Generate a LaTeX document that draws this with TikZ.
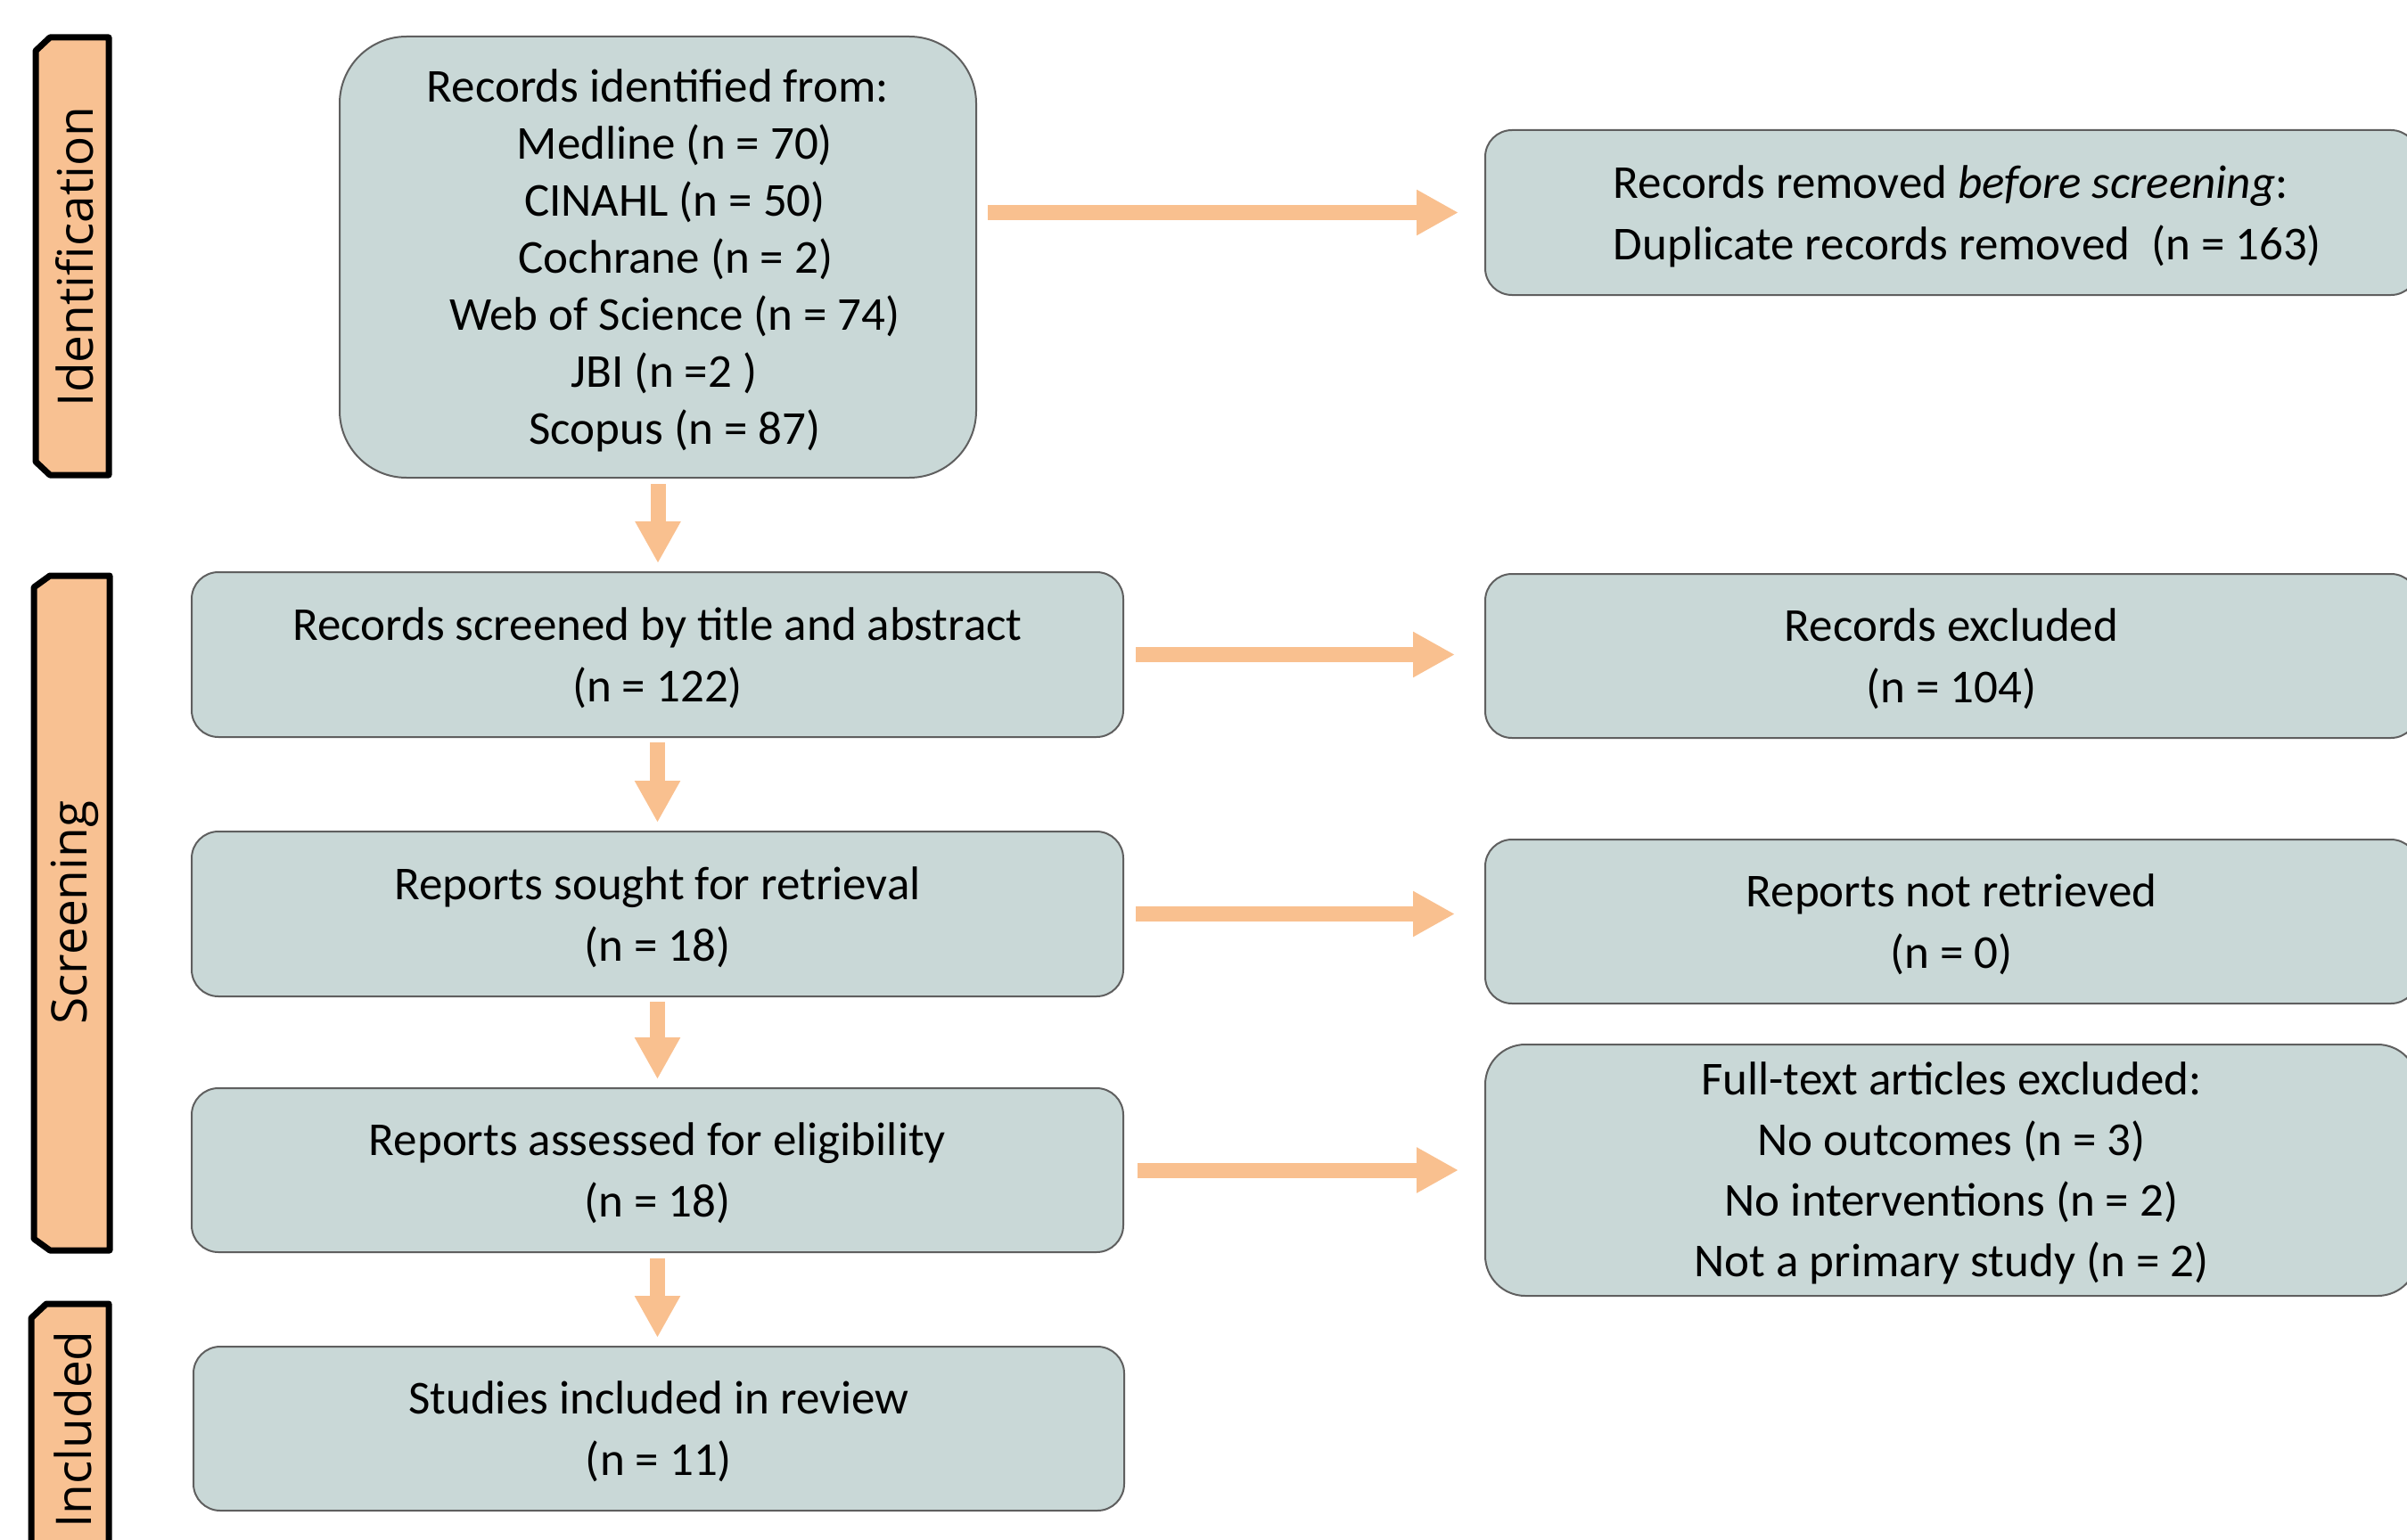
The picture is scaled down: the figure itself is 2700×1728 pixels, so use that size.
\documentclass[tikz,border=0pt]{standalone}
\usepackage{fontspec}
\setmainfont{Carlito}
\newfontfamily\sidefont{Open Sans}
\usetikzlibrary{arrows.meta}
\definecolor{boxfill}{RGB}{201,216,215}
\definecolor{boxline}{RGB}{95,95,95}
\definecolor{arrowc}{RGB}{249,192,143}
\definecolor{sidefill}{RGB}{248,193,146}
\begin{document}
\begin{tikzpicture}[x=1pt,y=-1pt,
  txt/.style={inner sep=0pt, align=center, font=\fontsize{53}{69}\selectfont},
  box/.style={draw=boxline, line width=2pt, fill=boxfill, rounded corners=30pt, inner sep=0pt},
  flowarrow/.style={draw=arrowc, line width=17pt, line cap=butt,
    -{Triangle[length=47pt,width=48pt]}},
  sidebar/.style={draw=black, line width=7pt, fill=sidefill, line join=round},
  sidelabel/.style={rotate=90, font=\sidefont\fontsize{55}{66}\selectfont, inner sep=0pt}]
\useasboundingbox (0,0) rectangle (2700,1728);
\fill[white] (0,0) rectangle (2700,1728);
\clip (0,0) rectangle (2700,1728);

% side bars
\draw[sidebar] (56,42) -- (122,42) -- (122,533) -- (56,533) -- (40,518) -- (40,57) -- cycle;
\draw[sidebar] (56,646) -- (123,646) -- (123,1403) -- (56,1403) -- (38,1390) -- (38,659) -- cycle;
\draw[sidebar] (52,1463) -- (122,1463) -- (122,1760) -- (35,1760) -- (35,1479) -- cycle;
\node[sidelabel] (lid) at (84,288) {Identification};
\node[sidelabel] (lsc) at (84,1024) {Screening};
\node[sidelabel] (lin) at (82,1604) {Included};

% main boxes
\node[box, rounded corners=75pt, minimum width=714pt, minimum height=495pt] (b1) at (738,288.5) {};
\node[box, minimum width=1045pt, minimum height=185pt] (b2) at (737.5,734.5) {};
\node[box, minimum width=1045pt, minimum height=185pt] (b3) at (737.5,1025.5) {};
\node[box, minimum width=1045pt, minimum height=184pt] (b4) at (737.5,1313) {};
\node[box, minimum width=1044pt, minimum height=184pt] (b5) at (739,1603) {};

% right boxes (cut by the right margin)
\node[box, minimum width=1046pt, minimum height=185pt] (rm) at (2189,238.5) {};
\node[box, minimum width=1046pt, minimum height=184pt] (ex) at (2189,736) {};
\node[box, minimum width=1046pt, minimum height=184pt] (nr) at (2189,1034) {};
\node[box, rounded corners=45pt, minimum width=1046pt, minimum height=282pt] (ft) at (2189,1313) {};

% texts
\node[txt, font=\fontsize{53}{64}\selectfont] (t1) at ([yshift=-3.5pt]b1.center)
  {Records identified from:\\ \hspace*{38pt}Medline (n = 70)\\ \hspace*{38pt}CINAHL (n = 50)\\
   \hspace*{40pt}Cochrane (n = 2)\\ \hspace*{38pt}Web of Science (n = 74)\\
   \hspace*{14pt}JBI (n =2 )\\ \hspace*{38pt}Scopus (n = 87)};
\node[txt] (t2) at ([yshift=-3.5pt]b2.center) {Records screened by title and abstract\\ (n = 122)};
\node[txt] (t3) at ([yshift=-3.5pt]b3.center) {Reports sought for retrieval\\ (n = 18)};
\node[txt] (t4) at ([yshift=-3.5pt]b4.center) {Reports assessed for eligibility\\ (n = 18)};
\node[txt] (t5) at ([yshift=-3.5pt]b5.center) {Studies included in review\\ (n = 11)};
\node[txt, align=left] (trm) at ([xshift=18pt,yshift=-4.5pt]rm.center)
  {Records removed \textit{before screening}:\\ Duplicate records removed \ (n = 163)};
\node[txt] (tex) at ([yshift=-3.5pt]ex.center) {Records excluded\\ (n = 104)};
\node[txt] (tnr) at ([yshift=-3.5pt]nr.center) {Reports not retrieved\\ (n = 0)};
\node[txt, font=\fontsize{53}{68}\selectfont] (tft) at ([yshift=-3.5pt]ft.center)
  {Full-text articles excluded:\\ No outcomes (n = 3)\\ No interventions (n = 2)\\ Not a primary study (n = 2)};

% vertical arrows
\draw[flowarrow, shorten <=6pt, shorten >=9pt] (b1.south) -- (b1.south |- b2.north);
\draw[flowarrow, shorten <=5pt, shorten >=9pt] (b2.south) -- (b2.south |- b3.north);
\draw[flowarrow, shorten <=5pt, shorten >=9pt] (b3.south) -- (b3.south |- b4.north);
\draw[flowarrow, shorten <=6pt, shorten >=9pt] (b4.south) -- (b4.south |- b5.north);

% horizontal arrows
\draw[flowarrow, shorten <=12pt, shorten >=29pt] (b1.east |- rm.west) -- (rm.west);
\draw[flowarrow, shorten <=13pt, shorten >=33pt] (b2.east) -- (b2.east -| ex.west);
\draw[flowarrow, shorten <=13pt, shorten >=33pt] (b3.east) -- (b3.east -| nr.west);
\draw[flowarrow, shorten <=15pt, shorten >=29pt] (b4.east) -- (b4.east -| ft.west);
\end{tikzpicture}
\end{document}
